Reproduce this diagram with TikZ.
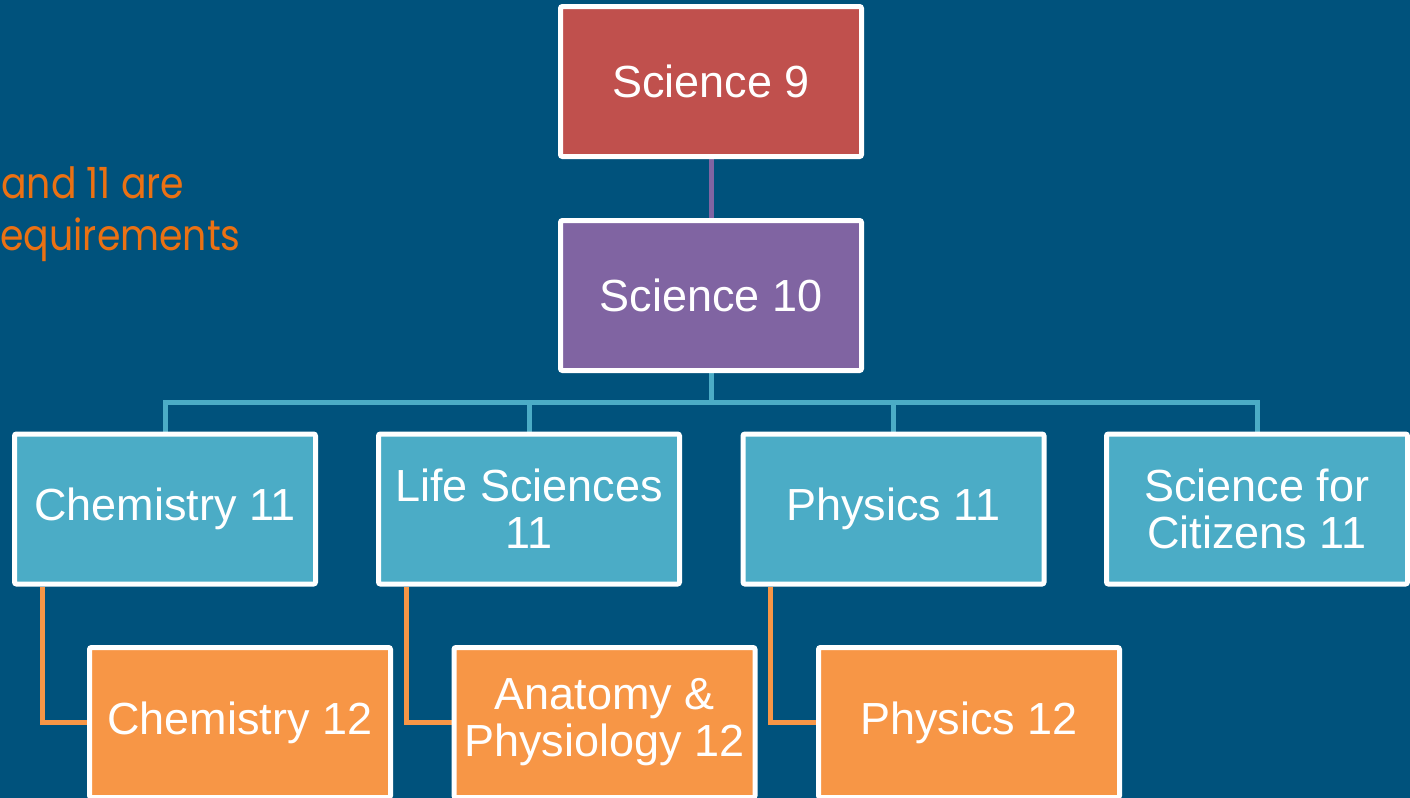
\documentclass[tikz,border=0pt]{standalone}
\usepackage{fontspec}
\setmainfont{Liberation Sans}
\newfontfamily\popfont[FakeStretch=0.88]{Poppins}
\pgfdeclarelayer{bg}
\pgfsetlayers{bg,main}
\definecolor{bgblue}{HTML}{00527C}
\definecolor{boxred}{HTML}{C0504D}
\definecolor{boxpurple}{HTML}{8064A2}
\definecolor{boxcyan}{HTML}{4BACC6}
\definecolor{boxorange}{HTML}{F79646}
\definecolor{noteorange}{HTML}{EB7113}
\begin{document}
\begin{tikzpicture}[x=0.5pt,y=-0.5pt,
  box/.style={draw=white, line width=2.5pt, rounded corners=1pt, minimum width=150.5pt, minimum height=75pt, inner sep=0pt, align=center, text=white, font=\fontsize{22.5}{23.5}\selectfont},
  link/.style={line width=2.5pt},
  note/.style={anchor=base west, inner sep=0pt, text=noteorange, font=\popfont\fontsize{21.5}{26}\selectfont}]
\useasboundingbox (0,0) rectangle (1410,798);
% boxes
\node[box, fill=boxred] (s9) at (711,81.5) {Science 9};
\node[box, fill=boxpurple] (s10) at (711,295.5) {Science 10};
\node[box, fill=boxcyan] (chem11) at (165,509) {Chemistry 11};
\node[box, fill=boxcyan] (life11) at (529,509) {Life Sciences\\11};
\node[box, fill=boxcyan] (phys11) at (893.5,509) {Physics 11};
\node[box, fill=boxcyan] (cit11) at (1257,509) {Science for\\Citizens 11};
\node[box, fill=boxorange] (chem12) at (240,722.5) {Chemistry 12};
\node[box, fill=boxorange] (anat12) at (604.5,722.5) {Anatomy \&\\Physiology 12};
\node[box, fill=boxorange] (phys12) at (969,722.5) {Physics 12};
% note text
\node[note] (note1) at (1,198) {and 11 are};
\node[note] (note2) at (0,250) {equirements};
\coordinate (bar) at (711,402);
\begin{pgfonlayer}{bg}
\fill[bgblue] (0,0) rectangle (1410,798);
\draw[link, boxpurple] (s9.south) -- (s10.north);
\draw[link, boxcyan] (s10.south) -- (bar) -| (chem11.north);
\draw[link, boxcyan] (bar) -| (life11.north);
\draw[link, boxcyan] (bar) -| (phys11.north);
\draw[link, boxcyan] (bar) -| (cit11.north);
\draw[link, boxorange] ([xshift=15pt]chem11.south west) |- (chem12.west);
\draw[link, boxorange] ([xshift=15pt]life11.south west) |- (anat12.west);
\draw[link, boxorange] ([xshift=15pt]phys11.south west) |- (phys12.west);
\end{pgfonlayer}
\end{tikzpicture}
\end{document}
